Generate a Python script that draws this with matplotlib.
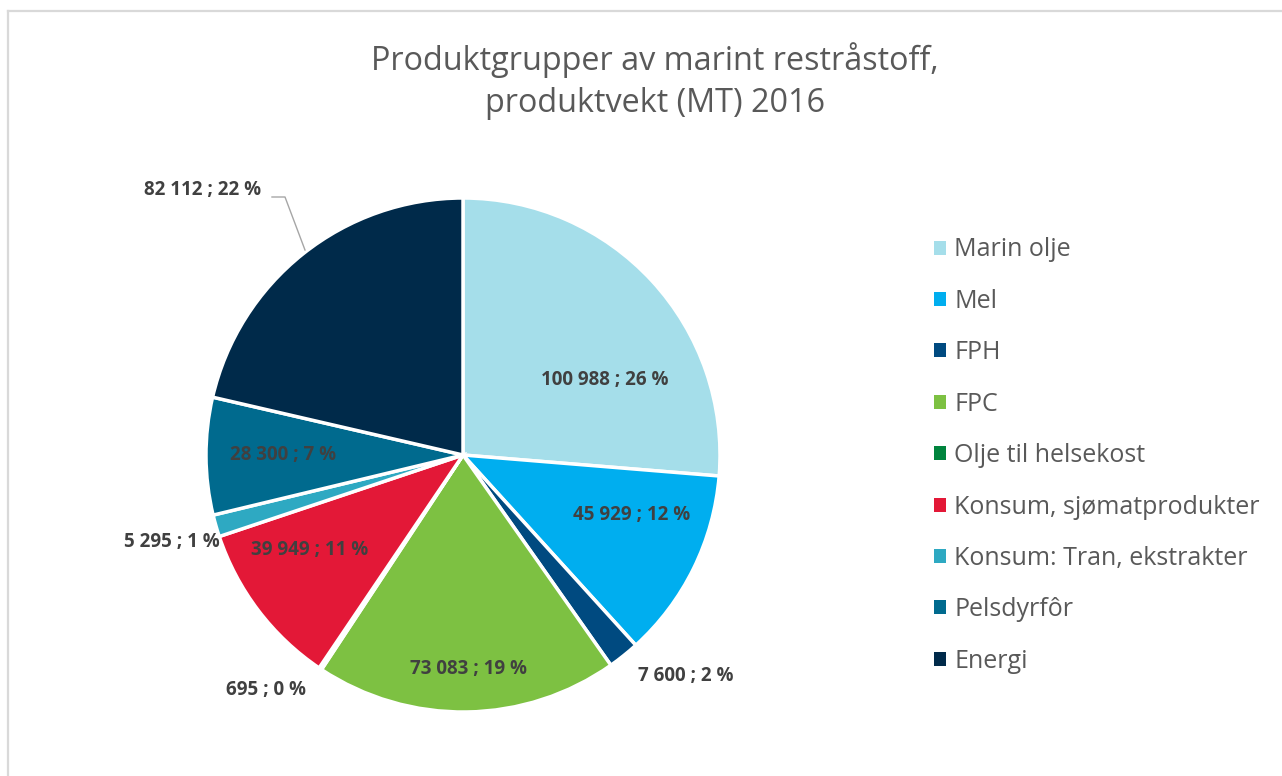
import matplotlib
matplotlib.use("Agg")
import matplotlib.pyplot as plt
from matplotlib.lines import Line2D
from matplotlib.patches import Patch

categories = ["Marin olje", "Mel", "FPH", "FPC", "Olje til helsekost",
              "Konsum, sjømatprodukter", "Konsum: Tran, ekstrakter",
              "Pelsdyrfôr", "Energi"]
values = [100988, 45929, 7600, 73083, 695, 39949, 5295, 28300, 82112]
percent_labels = ["26 %", "12 %", "2 %", "19 %", "0 %", "11 %", "1 %", "7 %", "22 %"]
title = "Produktgrupper av marint restråstoff,\nproduktvekt (MT) 2016"

colors = ["#A5DEEA", "#00AEEF", "#004A80", "#7DC142", "#00843D",
          "#E31837", "#2EA9C2", "#006A8E", "#002A4A"]

# label positions in data units (pie radius = 1)
label_pos = [(0.553, 0.292), (0.658, -0.233), (0.868, -0.86), (0.023, -0.833),
             (-0.767, -0.914), (-0.595, -0.37), (-1.132, -0.339), (-0.70, 0.0),
             (-1.012, 1.031)]

plt.rcParams['font.family'] = ['Open Sans', 'DejaVu Sans']

W, H = 1282, 776
fig = plt.figure(figsize=(W / 100, H / 100), dpi=100)
fig.patch.set_facecolor("white")

# chart border (top & left visible)
fig.add_artist(Line2D([8 / W, 1.0], [1 - 11 / H, 1 - 11 / H], transform=fig.transFigure,
                      color="#D9D9D9", lw=1.6))
fig.add_artist(Line2D([8 / W, 8 / W], [0.0, 1 - 11 / H], transform=fig.transFigure,
                      color="#D9D9D9", lw=1.6))

cx, cy, r = 463, 455, 257
ax = fig.add_axes([(cx - r) / W, (H - cy - r) / H, 2 * r / W, 2 * r / H])
wedges, _ = ax.pie(values, colors=colors, startangle=90, counterclock=False,
                   wedgeprops=dict(edgecolor="white", linewidth=2.5))
ax.set_xlim(-1, 1)
ax.set_ylim(-1, 1)
ax.set_aspect("equal")
ax.axis("off")

for v, p, (x, y) in zip(values, percent_labels, label_pos):
    txt = f"{v:,}".replace(",", " ") + " ; " + p
    ax.text(x, y, txt, ha="center", va="center", fontsize=13.5, fontweight="bold",
            color="#404040", clip_on=False)

# leader line for Energi label
px = lambda X: (X - cx) / r
py = lambda Y: (cy - Y) / r
ax.add_line(Line2D([px(272), px(285), px(305)], [py(197), py(197), py(250)],
                   color="#A6A6A6", lw=1.0, clip_on=False))

fig.text(655 / W, 1 - 81 / H, title, ha="center", va="center", fontsize=23.3,
         color="#595959", linespacing=1.33)

handles = [Patch(facecolor=c, edgecolor="none") for c in colors]
leg = fig.legend(handles, categories, loc="upper left",
                 bbox_to_anchor=(911 / W, 1 - 215 / H), frameon=False,
                 fontsize=18, labelcolor="#595959", handlelength=0.48,
                 handleheight=0.48, handletextpad=0.36, labelspacing=1.056)

fig.savefig("out.png", dpi=100, facecolor="white")
